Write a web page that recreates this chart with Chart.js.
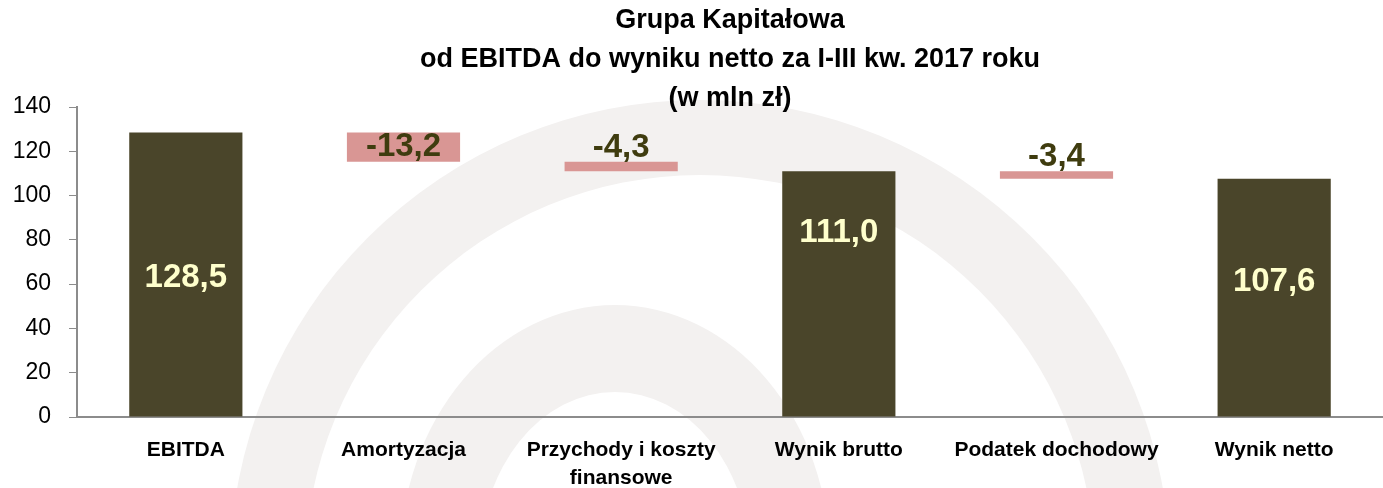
<!DOCTYPE html>
<html>
<head>
<meta charset="utf-8">
<script src="https://cdn.jsdelivr.net/npm/chart.js@4.4.0/dist/chart.umd.min.js"></script>
<style>
  html, body { margin: 0; padding: 0; background: #ffffff; }
  #wrap { width: 1383px; height: 488px; position: relative; }
</style>
</head>
<body>
<div id="wrap"><canvas id="waterfall"></canvas></div>
<script>
const categories = [
  "EBITDA",
  "Amortyzacja",
  ["Przychody i koszty", "finansowe"],
  "Wynik brutto",
  "Podatek dochodowy",
  "Wynik netto",
];
// change for each step; totals are absolute values
const values = [128.5, -13.2, -4.3, 111.0, -3.4, 107.6];
const isTotal = [true, false, false, true, false, true];
const valueLabels = ["128,5", "-13,2", "-4,3", "111,0", "-3,4", "107,6"];
const yTicks = [0, 20, 40, 60, 80, 100, 120, 140];
const titleLines = ["Grupa Kapitałowa", "od EBITDA do wyniku netto za I-III kw. 2017 roku", "(w mln zł)"];

// where the labels sit inside the total bars (value units), as in the original
const labelCenters = [63, null, null, 83, null, 61];

const FONT = "'Liberation Sans', Arial, sans-serif";
const DARK = "#4a452a";
const PINK = "#d99694";

// floating ranges built from the running total
const ranges = [];
let running = 0;
values.forEach((v, i) => {
  if (isTotal[i]) {
    running = v;
    ranges.push([0, v]);
  } else {
    const next = running + v;
    ranges.push([next, running]);
    running = next;
  }
});

const watermarkPlugin = {
  id: "watermark",
  beforeDraw(chart) {
    const { ctx } = chart;
    ctx.save();
    ctx.fillStyle = "#ffffff";
    ctx.fillRect(0, 0, chart.width, chart.height);
    ctx.fillStyle = "#f3f1f0";
    const ring = (cx, cy, rxo, ryo, rxi, ryi) => {
      ctx.beginPath();
      ctx.ellipse(cx, cy, rxo, ryo, 0, 0, Math.PI * 2);
      ctx.ellipse(cx, cy, rxi, ryi, 0, 0, Math.PI * 2);
      ctx.fill("evenodd");
    };
    ring(700, 570, 470, 470, 395, 395);
    ring(615, 560, 215, 255, 135, 168);
    ctx.restore();
  },
};

const titlePlugin = {
  id: "titleBlock",
  afterDraw(chart) {
    const { ctx, chartArea } = chart;
    const cx = (chartArea.left + chartArea.right) / 2;
    ctx.save();
    ctx.font = "bold 27px " + FONT;
    ctx.fillStyle = "#000000";
    ctx.textAlign = "center";
    ctx.textBaseline = "middle";
    titleLines.forEach((line, i) => {
      ctx.fillText(line, cx, 21 + i * 39);
    });
    ctx.restore();
  },
};

const labelPlugin = {
  id: "barLabels",
  afterDatasetsDraw(chart) {
    const { ctx } = chart;
    const meta = chart.getDatasetMeta(0);
    const yScale = chart.scales.y;
    ctx.save();
    ctx.font = "bold 33px " + FONT;
    ctx.textAlign = "center";
    ctx.textBaseline = "middle";
    meta.data.forEach((bar, i) => {
      const top = Math.min(bar.y, bar.base);
      const bottom = Math.max(bar.y, bar.base);
      let y;
      if (isTotal[i]) {
        ctx.fillStyle = "#ffffcc";
        y = labelCenters[i] != null ? yScale.getPixelForValue(labelCenters[i]) : (top + bottom) / 2;
      } else {
        ctx.fillStyle = "#3f3c0f";
        y = bottom - top > 24 ? (top + bottom) / 2 : top - 14;
      }
      ctx.fillText(valueLabels[i], bar.x, y);
    });
    ctx.restore();
  },
};

new Chart(document.getElementById("waterfall").getContext("2d"), {
  type: "bar",
  data: {
    labels: categories,
    datasets: [
      {
        data: ranges,
        backgroundColor: isTotal.map((t) => (t ? DARK : PINK)),
        borderWidth: 0,
        categoryPercentage: 1,
        barPercentage: 0.52,
      },
    ],
  },
  options: {
    responsive: true,
    maintainAspectRatio: false,
    animation: false,
    layout: { padding: { left: 0, right: 0, top: 107, bottom: 0 } },
    plugins: {
      legend: { display: false },
      tooltip: { enabled: false },
      title: { display: false },
    },
    scales: {
      x: {
        grid: { display: false },
        border: { display: true, color: "#8c8c8c", width: 2 },
        afterFit: (scale) => {
          scale.height = 71;
        },
        ticks: {
          color: "#000000",
          font: { family: FONT, size: 21, weight: "bold", lineHeight: 1.35 },
          padding: 11,
          maxRotation: 0,
          autoSkip: false,
        },
      },
      y: {
        min: 0,
        max: 140,
        afterBuildTicks: (scale) => {
          scale.ticks = yTicks.map((v) => ({ value: v }));
        },
        afterFit: (scale) => {
          scale.width = 77;
        },
        grid: { display: true, drawOnChartArea: false, drawTicks: true, tickLength: 8, color: "#8c8c8c" },
        border: { display: true, color: "#8c8c8c", width: 2 },
        ticks: {
          color: "#000000",
          font: { family: FONT, size: 23 },
          padding: 18,
        },
      },
    },
  },
  plugins: [watermarkPlugin, labelPlugin, titlePlugin],
});
</script>
</body>
</html>
